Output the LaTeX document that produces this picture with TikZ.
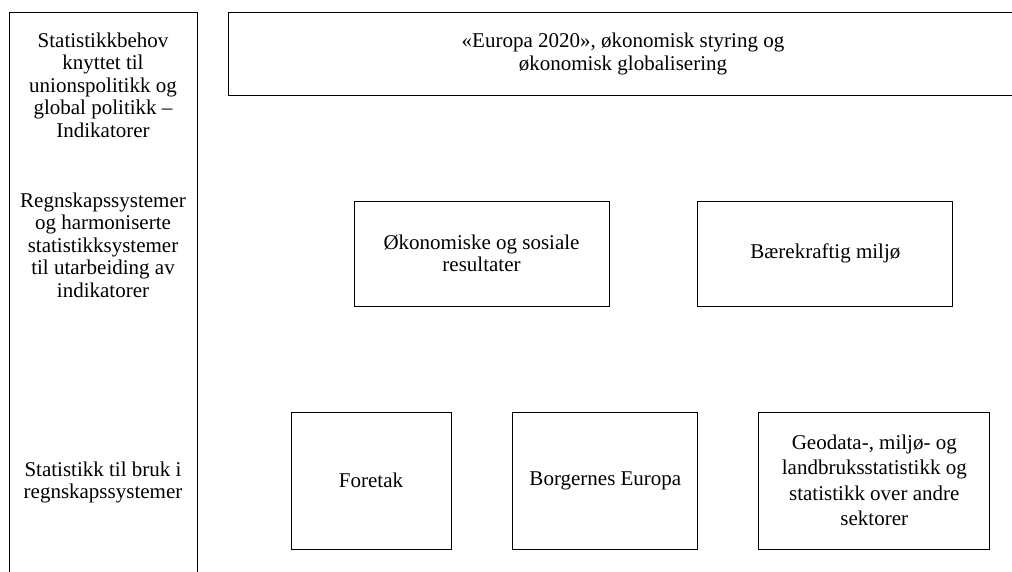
\documentclass[tikz,border=0pt]{standalone}
\usepackage{fontspec}
\setmainfont{Liberation Serif}
\usetikzlibrary{positioning}

\begin{document}
\begin{tikzpicture}[x=1pt, y=-1pt,
			internal/.style={draw, rectangle, line width=0.9pt, inner sep=0pt},
			sidetext/.style={inner sep=0pt},
			every text node part/.style={align=center},
			font=\fontsize{21}{22.5}\selectfont]
			\useasboundingbox (0,0) rectangle (1012,572);
			\clip (0,0) rectangle (1012,572);
			
			\node[internal, minimum width=188pt, minimum height=620pt, anchor=north](node1) at (103, 12) {};
			\node[sidetext, anchor=north](node2) at (103, 32.4) {Statistikkbehov \\ knyttet til \\ unionspolitikk og \\ global politikk – \\ Indikatorer};
			\node[sidetext, anchor=north](node3) at (103, 192.7) {Regnskapssystemer \\ og harmoniserte \\ statistikksystemer \\ til utarbeiding av \\ indikatorer};
			\node[sidetext, anchor=north](node4) at (103, 461.7) {Statistikk til bruk i \\ regnskapssystemer};
			
			\node[internal, minimum width=790pt, minimum height=83.5pt](node5) at (623, 53.75) {«Europa 2020», økonomisk styring og \\ økonomisk globalisering};
			
			\node[internal, minimum width=255pt, minimum height=105pt](node6) at (481.5, 253.5) {Økonomiske og sosiale \\ resultater};
			\node[internal, minimum width=255pt, minimum height=105pt, right=88pt of node6](node7) {Bærekraftig miljø};
			
			\node[internal, minimum width=160pt, minimum height=137pt](node8) at (371, 480.5) {Foretak};
			\node[internal, minimum width=185pt, minimum height=137pt, right=61pt of node8](node9) {Borgernes Europa};
			\node[internal, minimum width=231pt, minimum height=137pt, right=60pt of node9, font=\fontsize{21}{25.5}\selectfont](node10) {Geodata-, miljø- og \\ landbruksstatistikk og \\ statistikk over andre \\ sektorer};
			\end{tikzpicture}
\end{document}
